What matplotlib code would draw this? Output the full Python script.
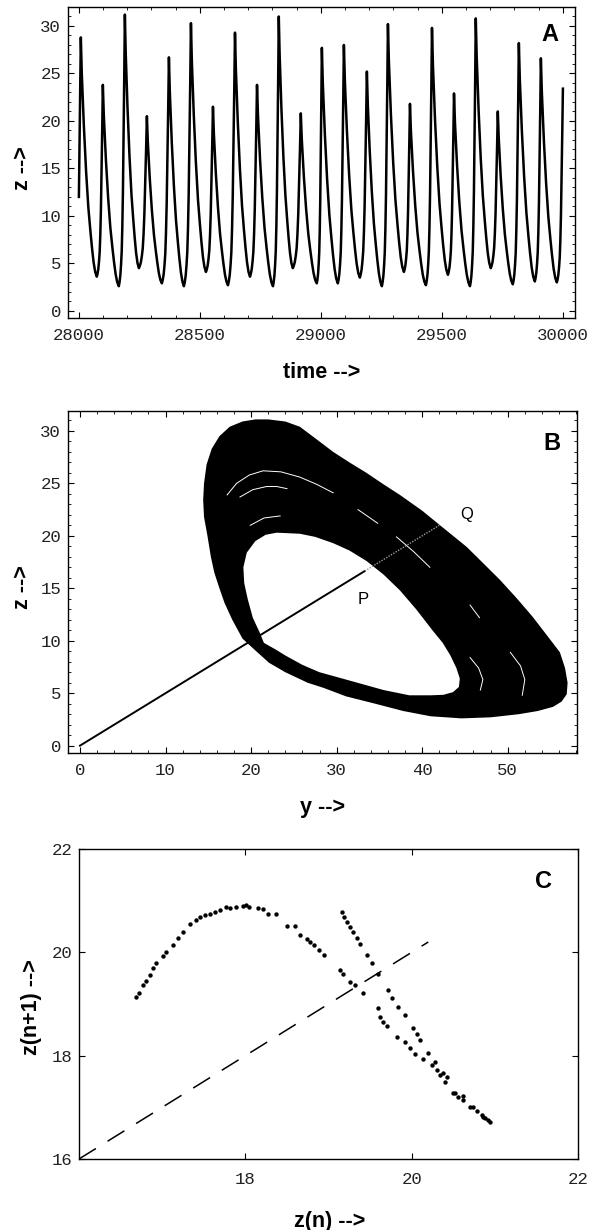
import numpy as np
import matplotlib
matplotlib.use("Agg")
import matplotlib.pyplot as plt
from matplotlib.ticker import MultipleLocator

# ---------------- panel A : z(t) time series ----------------
start_time, start_z = 28000, 12.0
end_time, end_z = 30000, 23.4
peak_time = [28008, 28099, 28190, 28281, 28372, 28463, 28554, 28645, 28736, 28826, 28917,
             29004, 29095, 29190, 29277, 29368, 29459, 29550, 29640, 29731, 29818, 29909]
peak_z = [28.8, 23.8, 31.2, 20.5, 26.7, 30.3, 21.5, 29.3, 23.8, 31.0, 20.8,
          27.7, 28.0, 25.2, 30.2, 21.8, 29.8, 22.9, 30.8, 21.0, 28.2, 26.6]
trough_time = [28074, 28165, 28248, 28343, 28434, 28525, 28616, 28707, 28802, 28884, 28983,
               29070, 29161, 29252, 29343, 29434, 29525, 29616, 29702, 29793, 29884, 29975]
trough_z = [3.6, 2.6, 4.5, 2.9, 2.6, 4.1, 2.7, 3.6, 2.6, 4.5, 2.9,
            2.9, 3.5, 2.6, 4.1, 2.7, 3.8, 2.6, 4.5, 2.8, 3.1, 3.0]

fall_s = [0, 0.06, 0.19, 0.33, 0.47, 0.6, 0.7, 0.8, 0.9, 1.0]
fall_f = [1, 0.85, 0.63, 0.44, 0.29, 0.19, 0.12, 0.06, 0.02, 0]
rise_s = [0, 0.12, 0.25, 0.37, 0.48, 0.58, 0.68, 0.81, 0.9, 1.0]
rise_f = [0, 0.015, 0.04, 0.08, 0.13, 0.22, 0.35, 0.59, 0.78, 1.0]

# ---------------- panel B : attractor projected on y-z ----------------
outer_y = [14.4, 14.5, 14.8, 15.4, 16.3, 17.5, 19.0, 20.5, 22.0, 24.0, 25.7, 27.5, 29.6, 31.5,
           33.5, 35.5, 37.4, 40.0, 42.1, 45.2, 47.0, 49.1, 51.0, 52.9, 54.6, 56.1, 56.7, 57.0,
           56.9, 56.3, 55.3, 53.5, 51.3, 48.0, 44.6, 41.0, 37.8, 34.5, 31.1, 28.5, 26.6, 24.0,
           22.1, 20.6, 19.0, 17.8, 16.9, 16.3, 15.7, 15.3, 14.9, 14.5]
outer_z = [23.4, 25.0, 26.8, 28.3, 29.5, 30.4, 30.9, 31.1, 31.1, 30.9, 30.4, 29.3, 28.0, 27.0,
           26.0, 24.9, 23.9, 22.4, 21.0, 18.95, 17.5, 15.8, 14.1, 12.3, 10.5, 8.9, 7.4, 6.0,
           4.9, 4.2, 3.7, 3.3, 3.0, 2.7, 2.6, 2.8, 3.3, 4.0, 4.7, 5.5, 6.0, 7.0,
           7.9, 9.0, 10.2, 12.0, 13.6, 15.0, 16.5, 18.0, 20.0, 21.8]
hole_y = [23.0, 25.7, 27.5, 29.6, 31.5, 33.5, 35.5, 37.4, 39.3, 41.2, 42.4, 43.3, 44.0, 44.4,
          44.3, 43.6, 42.5, 41.0, 38.5, 35.5, 31.1, 28.0, 26.0, 24.0, 22.8, 21.5, 21.0, 20.2,
          19.6, 19.2, 19.1, 19.5, 20.5, 21.7]
hole_z = [20.3, 20.2, 19.9, 19.3, 18.6, 17.6, 16.3, 14.8, 13.0, 11.0, 9.8, 8.6, 7.4, 6.4,
          5.6, 5.1, 4.85, 4.8, 4.8, 5.3, 6.3, 7.0, 7.7, 8.6, 9.2, 9.8, 10.8, 12.2,
          14.0, 15.5, 17.0, 18.4, 19.5, 20.1]
gaps_y = [[17.2, 18.3, 19.8, 21.4, 23.5, 25.7, 27.7, 29.6],
          [18.7, 20.2, 21.8, 23.0, 24.2],
          [19.9, 21.5, 23.4],
          [32.5, 34.8],
          [37.0, 39.0, 40.9],
          [45.6, 46.7],
          [50.3, 51.5, 52.0, 51.7],
          [45.6, 46.6, 47.1, 46.8]]
gaps_z = [[23.9, 25.0, 25.8, 26.2, 26.1, 25.6, 24.9, 24.1],
          [23.7, 24.4, 24.7, 24.7, 24.5],
          [21.0, 21.7, 21.9],
          [22.5, 21.2],
          [19.9, 18.5, 17.0],
          [13.4, 12.2],
          [8.9, 7.6, 6.3, 4.8],
          [8.4, 7.4, 6.3, 5.3]]
P_point = (33.3, 16.65)
Q_point = (42.0, 21.0)

# ---------------- panel C : return map of section maxima ----------------
zn = [16.69, 16.72, 16.77, 16.81, 16.85, 16.89, 16.93, 17.01, 17.05, 17.13, 17.19, 17.25, 17.33,
      17.41, 17.45, 17.51, 17.57, 17.63, 17.69, 17.77, 17.81, 17.89, 17.97, 18.01, 18.05, 18.15,
      18.21, 18.27, 18.37, 18.50, 18.60, 18.66, 18.74, 18.78, 18.82, 18.88, 18.94,
      19.14, 19.18, 19.26, 19.32, 19.42, 19.60, 19.62, 19.66, 19.70, 19.82, 19.92, 19.98, 20.04,
      20.14, 20.24, 20.30, 20.34, 20.40, 20.50, 20.56, 20.62, 20.70, 20.78, 20.86, 20.94,
      19.16, 19.19, 19.22, 19.26, 19.30, 19.34, 19.38, 19.46, 19.52, 19.59, 19.71, 19.76, 19.84,
      19.92, 20.02, 20.06, 20.10, 20.20, 20.28, 20.38, 20.42, 20.52, 20.62, 20.74, 20.84, 20.88,
      20.92]
zn1 = [19.14, 19.22, 19.37, 19.45, 19.56, 19.69, 19.79, 19.93, 20.00, 20.15, 20.28, 20.40, 20.55,
       20.63, 20.69, 20.72, 20.75, 20.79, 20.82, 20.87, 20.85, 20.88, 20.89, 20.91, 20.88, 20.85,
       20.83, 20.75, 20.74, 20.51, 20.51, 20.34, 20.25, 20.20, 20.14, 20.05, 19.95,
       19.66, 19.59, 19.43, 19.37, 19.21, 18.92, 18.75, 18.66, 18.57, 18.37, 18.27, 18.14, 18.04,
       17.93, 17.82, 17.72, 17.63, 17.50, 17.27, 17.20, 17.14, 17.01, 16.92, 16.82, 16.72,
       20.79, 20.69, 20.59, 20.50, 20.40, 20.28, 20.17, 19.95, 19.79, 19.59, 19.27, 19.11, 18.95,
       18.79, 18.53, 18.42, 18.30, 18.05, 17.88, 17.66, 17.59, 17.27, 17.21, 17.01, 16.85, 16.80,
       16.76]
diag_end = 20.2

TICKFONT = dict(family="Liberation Mono", size=12.5)
LABELFONT = dict(family="Liberation Sans", weight="bold", size=15.5)


def frame_style(ax):
    for sp in ax.spines.values():
        sp.set_linewidth(1.0)
    ax.tick_params(which="both", direction="in", top=True, right=True, colors="black")
    ax.tick_params(which="major", length=4.5, width=0.8, pad=5)
    ax.tick_params(which="minor", length=2.5, width=0.6)
    for lab in ax.get_xticklabels() + ax.get_yticklabels():
        lab.set_fontfamily(TICKFONT["family"])
        lab.set_fontsize(TICKFONT["size"])
        lab.set_color("#222222")


fig = plt.figure(figsize=(6, 12.3), dpi=100)

# ---- A ----
axA = fig.add_axes([68 / 600, 1 - 318 / 1230, 507 / 600, 311 / 1230])
t_line, z_line = [start_time], [start_z]
for i in range(len(peak_time)):
    pt, pz, tt, tz = peak_time[i], peak_z[i], trough_time[i], trough_z[i]
    for s, f in zip(fall_s, fall_f):
        t_line.append(pt + s * (tt - pt))
        z_line.append(tz + f * (pz - tz))
    if i + 1 < len(peak_time):
        nt, nz = peak_time[i + 1], peak_z[i + 1]
    else:
        nt, nz = end_time, end_z
    for s, f in zip(rise_s[1:], rise_f[1:]):
        t_line.append(tt + s * (nt - tt))
        z_line.append(tz + f * (nz - tz))
axA.plot(t_line, z_line, color="black", lw=1.8, solid_joinstyle="round")
axA.set_xlim(27955, 30050)
axA.set_ylim(-0.75, 32)
axA.xaxis.set_major_locator(MultipleLocator(500))
axA.xaxis.set_minor_locator(MultipleLocator(100))
axA.yaxis.set_major_locator(MultipleLocator(5))
axA.yaxis.set_minor_locator(MultipleLocator(1))
frame_style(axA)
axA.tick_params(axis="x", pad=7)
axA.text(0.951, 0.91, "A", transform=axA.transAxes, ha="center", va="center",
         fontsize=17, fontweight="bold", family="Liberation Sans")

# ---- B ----
axB = fig.add_axes([68 / 600, 1 - 753 / 1230, 509 / 600, 342 / 1230])
axB.fill(outer_y, outer_z, color="black", lw=0, zorder=1)
axB.fill(hole_y, hole_z, color="white", lw=0, zorder=2)
for gy, gz in zip(gaps_y, gaps_z):
    axB.plot(gy, gz, color="white", lw=0.7, zorder=3)
axB.plot([0, P_point[0]], [0, P_point[1]], color="black", lw=1.4, zorder=4)
axB.plot([P_point[0], Q_point[0]], [P_point[1], Q_point[1]], color="#9a9a9a",
         lw=1.0, ls=(0, (1, 1)), zorder=4)
axB.text(33.1, 13.9, "P", ha="center", va="center", fontsize=12, family="Liberation Sans")
axB.text(45.2, 22.0, "Q", ha="center", va="center", fontsize=12, family="Liberation Sans")
axB.set_xlim(-1.4, 58.1)
axB.set_ylim(-0.7, 31.9)
axB.xaxis.set_major_locator(MultipleLocator(10))
axB.xaxis.set_minor_locator(MultipleLocator(2))
axB.yaxis.set_major_locator(MultipleLocator(5))
axB.yaxis.set_minor_locator(MultipleLocator(1))
frame_style(axB)
axB.tick_params(axis="x", pad=7)
axB.text(0.951, 0.906, "B", transform=axB.transAxes, ha="center", va="center",
         fontsize=17, fontweight="bold", family="Liberation Sans")

# ---- C ----
axC = fig.add_axes([79 / 600, 1 - 1159 / 1230, 499 / 600, 310 / 1230])
axC.plot([16, diag_end], [16, diag_end], color="black", lw=1.1, dashes=(13, 9))
axC.scatter(zn, zn1, s=10, color="black", lw=0)
axC.set_xlim(16, 22)
axC.set_ylim(16, 22)
axC.set_xticks([18, 20, 22])
axC.set_yticks([16, 18, 20, 22])
frame_style(axC)
axC.tick_params(axis="x", pad=9)
axC.text(0.93, 0.894, "C", transform=axC.transAxes, ha="center", va="center",
         fontsize=17, fontweight="bold", family="Liberation Sans")

# axis titles
fig.text(322 / 600, 1 - 372 / 1230, "time -->", ha="center", va="center", **LABELFONT)
fig.text(23 / 600, 1 - 168 / 1230, "z -->", ha="center", va="center", rotation=90, **LABELFONT)
fig.text(323 / 600, 1 - 808 / 1230, "y -->", ha="center", va="center", **LABELFONT)
fig.text(23 / 600, 1 - 587 / 1230, "z -->", ha="center", va="center", rotation=90, **LABELFONT)
fig.text(330 / 600, 1 - 1221 / 1230, "z(n) -->", ha="center", va="center", **LABELFONT)
fig.text(31 / 600, 1 - 1007 / 1230, "z(n+1) -->", ha="center", va="center", rotation=90,
         **LABELFONT)

fig.savefig("out.png", dpi=100)
